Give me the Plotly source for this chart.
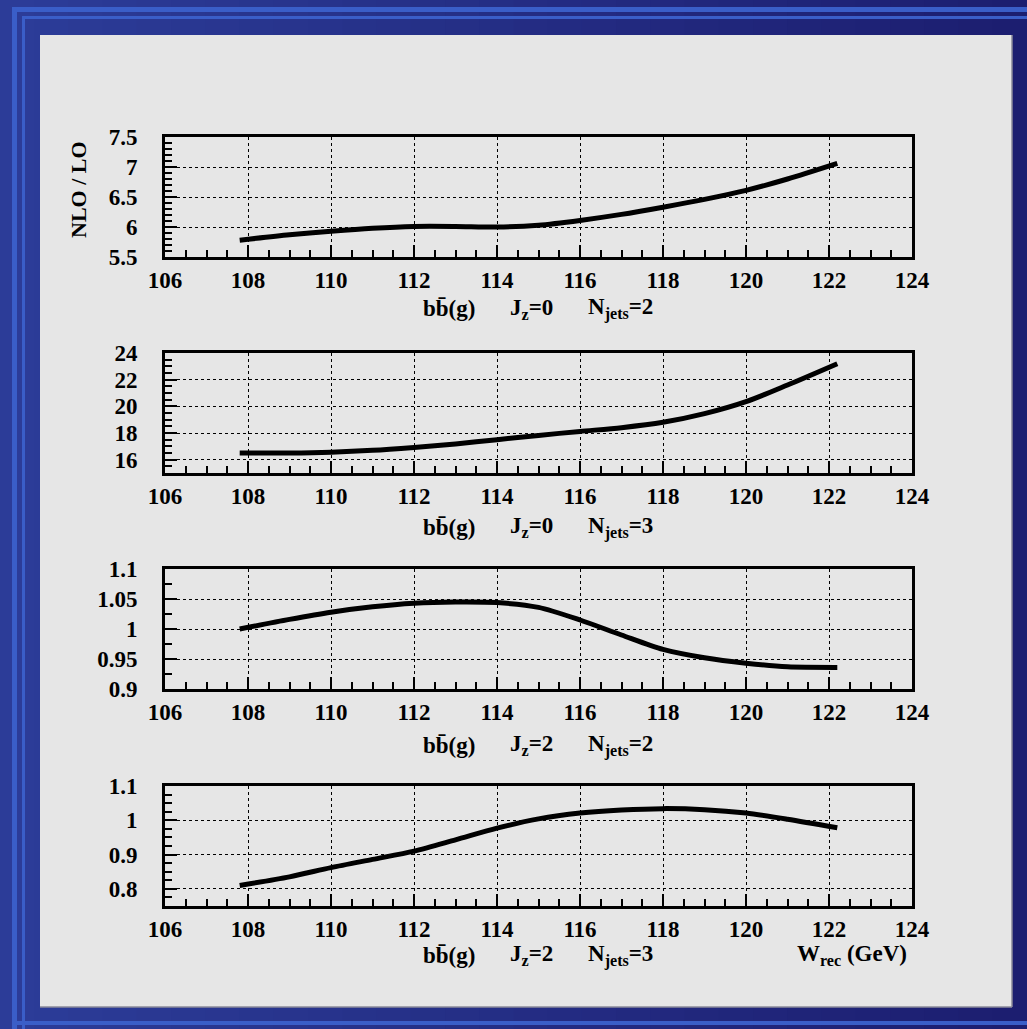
import plotly.graph_objects as go
from plotly.subplots import make_subplots

W, H = 1027, 1029

# ---- data ----
x_vals = [107.8, 109, 110, 111, 112, 113, 114, 115, 116, 117, 118, 119, 120, 121, 122.2]
y_jz0_n2 = [5.78, 5.87, 5.93, 5.98, 6.01, 6.01, 6.0, 6.03, 6.11, 6.21, 6.33, 6.46, 6.61, 6.8, 7.06]
y_jz0_n3 = [16.5, 16.5, 16.56, 16.7, 16.92, 17.18, 17.5, 17.82, 18.12, 18.4, 18.8, 19.45, 20.35, 21.6, 23.2]
y_jz2_n2 = [1.0, 1.016, 1.028, 1.037, 1.043, 1.045, 1.044, 1.036, 1.015, 0.99, 0.966, 0.952, 0.943, 0.937, 0.936]
y_jz2_n3 = [0.81, 0.835, 0.862, 0.886, 0.91, 0.943, 0.977, 1.004, 1.021, 1.03, 1.034, 1.031, 1.021, 1.003, 0.978]
series = [y_jz0_n2, y_jz0_n3, y_jz2_n2, y_jz2_n3]

x_range = [106, 124]
y_ranges = [[5.5, 7.5], [15, 24], [0.9, 1.1], [0.75, 1.1]]
y_dticks = [0.5, 2, 0.05, 0.1]
y_tick0 = [5.5, 16, 0.9, 0.8]
y_minor = [0.1, 0.5, 0.025, 0.025]
jz_labels = ["0", "0", "2", "2"]
nj_labels = ["2", "3", "2", "3"]

# ---- layout geometry (pixels) ----
plot_left, plot_right = 165, 912
panel_tops = [137, 353, 569, 786]
panel_bottoms = [257, 473, 689, 906]
subtitle_y = [309, 527, 745, 955]

def px(x):
    return x / W

def py(y):
    return 1 - y / H

FONT = "Liberation Serif"

fig = make_subplots(rows=4, cols=1)

for i, ys in enumerate(series):
    fig.add_trace(go.Scatter(x=x_vals, y=ys, mode="lines",
                             line=dict(color="black", width=5, shape="spline", smoothing=0.8),
                             showlegend=False, hoverinfo="skip"), row=i + 1, col=1)

for i in range(4):
    xa = "xaxis" if i == 0 else f"xaxis{i+1}"
    ya = "yaxis" if i == 0 else f"yaxis{i+1}"
    fig.layout[xa].update(
        domain=[px(plot_left), px(plot_right)], range=x_range, tick0=106, dtick=2,
        automargin=False,
        showline=True, mirror=True, linecolor="black", linewidth=3,
        ticks="inside", ticklen=12, tickwidth=1.5, tickcolor="black",
        minor=dict(dtick=0.5, ticks="inside", ticklen=7, tickwidth=1.5, tickcolor="black", showgrid=False),
        showgrid=True, gridcolor="black", gridwidth=1, griddash="dot",
        zeroline=False, ticklabelstandoff=0,
        tickfont=dict(family=FONT, size=23, color="black", weight="bold"),
    )
    fig.layout[ya].update(
        domain=[py(panel_bottoms[i]), py(panel_tops[i])], range=y_ranges[i],
        tick0=y_tick0[i], dtick=y_dticks[i],
        automargin=False,
        showline=True, mirror=True, linecolor="black", linewidth=3,
        ticks="inside", ticklen=12, tickwidth=1.5, tickcolor="black",
        minor=dict(dtick=y_minor[i], ticks="inside", ticklen=7, tickwidth=1.5, tickcolor="black", showgrid=False),
        showgrid=True, gridcolor="black", gridwidth=1, griddash="dot",
        zeroline=False, ticklabelstandoff=20,
        tickfont=dict(family=FONT, size=23, color="black", weight="bold"),
    )

# ---- background shapes ----
shapes = []
n_strips = 30
c0 = (44, 60, 152)
c1 = (28, 30, 112)
for k in range(n_strips):
    t = k / (n_strips - 1)
    c = tuple(int(round(c0[j] + (c1[j] - c0[j]) * t)) for j in range(3))
    shapes.append(dict(type="rect", xref="paper", yref="paper", layer="below",
                       x0=px(W * k / n_strips), x1=px(W * (k + 1) / n_strips + 1), y0=0, y1=1,
                       fillcolor=f"rgb{c}", line=dict(width=0)))
band = "#3a5ec8"
band_rects = [
    (12, 7, W, 12),      # top band 1
    (22, 16, W, 19),     # top band 2
    (12, 7, 17, H),      # left band 1
    (22, 16, 25, H),     # left band 2
    (12, 1021, W, 1025), # bottom band
]
for (x0, y0, x1, y1) in band_rects:
    shapes.append(dict(type="rect", xref="paper", yref="paper", layer="below",
                       x0=px(x0), x1=px(x1), y0=py(y1), y1=py(y0),
                       fillcolor=band, line=dict(width=0)))
# inner gray panel
shapes.append(dict(type="rect", xref="paper", yref="paper", layer="below",
                   x0=px(40), x1=px(1012), y0=py(1007), y1=py(35),
                   fillcolor="#e6e6e6", line=dict(width=0)))
shapes.append(dict(type="line", xref="paper", yref="paper", layer="below",
                   x0=px(1012), x1=px(1012), y0=py(1007), y1=py(35), line=dict(color="#8a8a9a", width=1.5)))
shapes.append(dict(type="line", xref="paper", yref="paper", layer="below",
                   x0=px(40), x1=px(1012), y0=py(1007), y1=py(1007), line=dict(color="#8a8a9a", width=1.5)))

# ---- annotations ----
ann = []
tf = dict(family=FONT, size=23, color="black", weight="bold")
for i in range(4):
    yy = py(subtitle_y[i])
    ann.append(dict(text="bb\u0304(g)", x=px(449), y=yy, xref="paper", yref="paper",
                    showarrow=False, font=tf, xanchor="center", yanchor="middle"))
    ann.append(dict(text="J<sub>z</sub>=" + jz_labels[i], x=px(531), y=yy, xref="paper", yref="paper",
                    showarrow=False, font=tf, xanchor="center", yanchor="middle"))
    ann.append(dict(text="N<sub>jets</sub>=" + nj_labels[i], x=px(620), y=yy, xref="paper", yref="paper",
                    showarrow=False, font=tf, xanchor="center", yanchor="middle"))
ann.append(dict(text="W<sub>rec</sub> (GeV)", x=px(852), y=py(955), xref="paper", yref="paper",
                showarrow=False, font=tf, xanchor="center", yanchor="middle"))
ann.append(dict(text="NLO / LO", x=px(78), y=py(190), xref="paper", yref="paper", textangle=-90,
                showarrow=False, font=dict(family=FONT, size=22, color="black", weight="bold"),
                xanchor="center", yanchor="middle"))

fig.update_layout(
    width=W, height=H, margin=dict(l=0, r=0, t=0, b=0, autoexpand=False),
    paper_bgcolor="#22307f", plot_bgcolor="#e6e6e6",
    shapes=shapes, annotations=ann, showlegend=False,
)

fig.write_html("out.html", config={"displayModeBar": False},
               post_script="document.body.style.margin='0';document.body.style.overflow='hidden';")
